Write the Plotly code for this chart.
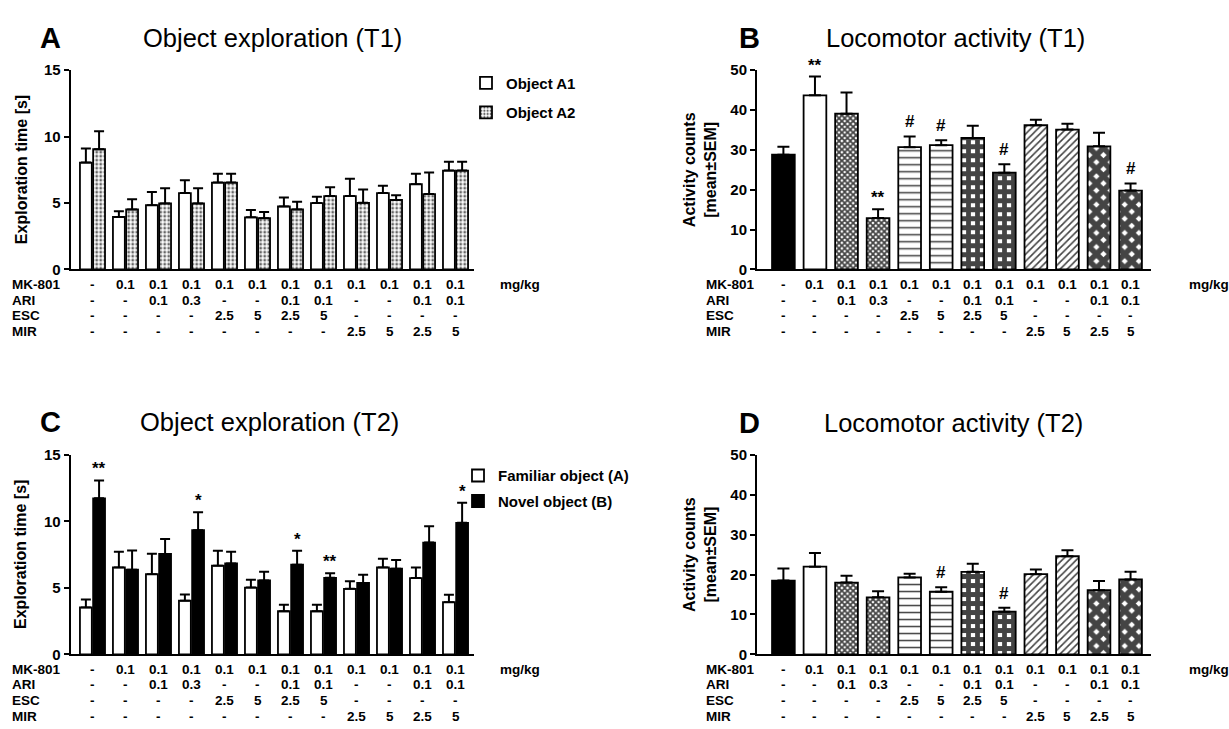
import plotly.graph_objects as go

W, H = 1229, 729
FONT = "Liberation Sans"

# ---------------- data ----------------
groups = list(range(12))
mk801 = ["-", "0.1", "0.1", "0.1", "0.1", "0.1", "0.1", "0.1", "0.1", "0.1", "0.1", "0.1"]
ari = ["-", "-", "0.1", "0.3", "-", "-", "0.1", "0.1", "-", "-", "0.1", "0.1"]
esc = ["-", "-", "-", "-", "2.5", "5", "2.5", "5", "-", "-", "-", "-"]
mir = ["-", "-", "-", "-", "-", "-", "-", "-", "2.5", "5", "2.5", "5"]
row_names = ["MK-801", "ARI", "ESC", "MIR"]

# Panel A: Object exploration (T1)
a1 = [8.05, 3.96, 4.84, 5.75, 6.54, 3.93, 4.75, 5.00, 5.53, 5.75, 6.42, 7.45]
a1_err = [1.05, 0.42, 0.99, 0.96, 0.66, 0.54, 0.66, 0.48, 1.31, 0.55, 0.78, 0.66]
a2 = [9.05, 4.52, 4.97, 4.97, 6.54, 3.86, 4.52, 5.53, 5.02, 5.24, 5.68, 7.45]
a2_err = [1.35, 0.77, 1.15, 1.15, 0.66, 0.47, 0.57, 0.67, 1.00, 0.34, 1.62, 0.66]

# Panel B: Locomotor activity (T1)
b_act = [28.8, 43.7, 39.1, 12.9, 30.7, 31.2, 33.0, 24.3, 36.2, 35.1, 30.9, 19.8]
b_err = [2.0, 4.7, 5.3, 2.2, 2.7, 1.2, 3.1, 2.1, 1.4, 1.5, 3.4, 1.8]
b_sig = ["", "**", "", "**", "#", "#", "", "#", "", "", "", "#"]

# Panel C: Object exploration (T2)
c_fam = [3.53, 6.54, 6.03, 4.04, 6.67, 5.02, 3.24, 3.24, 4.93, 6.54, 5.74, 3.92]
c_fam_err = [0.59, 1.18, 1.54, 0.46, 1.13, 0.59, 0.49, 0.49, 0.56, 0.66, 0.80, 0.57]
c_nov = [11.74, 6.37, 7.55, 9.34, 6.84, 5.56, 6.74, 5.76, 5.37, 6.44, 8.41, 9.90]
c_nov_err = [1.35, 1.45, 1.13, 1.35, 0.88, 0.66, 1.06, 0.34, 0.61, 0.66, 1.23, 1.50]
c_sig = ["**", "", "", "*", "", "", "*", "**", "", "", "", "*"]

# Panel D: Locomotor activity (T2)
d_act = [18.5, 22.0, 18.0, 14.3, 19.3, 15.7, 20.7, 10.7, 20.1, 24.6, 16.1, 18.8]
d_err = [3.0, 3.4, 1.7, 1.5, 0.9, 1.1, 2.0, 1.0, 1.2, 1.5, 2.3, 1.9]
d_sig = ["", "", "", "", "", "#", "", "#", "", "", "", ""]

# ---------------- styles ----------------
pat_shape = ["", "", "x", "x", "-", "-", "+", "+", "/", "/", "x", "x"]
pat_size = [6, 6, 4, 4, 7, 7, 9, 9, 5, 5, 10, 10]
pat_solid = [0.2, 0.2, 0.7, 0.7, 0.22, 0.22, 0.78, 0.78, 0.32, 0.32, 0.8, 0.8]
pat_fg = ["black", "black", "black", "black", "#333", "#333", "black", "black", "#222", "#222", "black", "black"]
bar_fill = ["black"] + ["white"] * 11

BARGAP = 0.2
BARGROUPGAP = 0.1


def px_x(p):
    return p / W


def px_y(p):
    return 1 - p / H


fig = go.Figure()

line = dict(color="black", width=1.8)


def err(arr, w):
    return dict(type="data", array=arr, arrayminus=[0] * len(arr), symmetric=False,
                color="black", thickness=2, width=w)


# Panel A
fig.add_trace(go.Bar(x=groups, y=a1, name="Object A1", xaxis="x", yaxis="y",
                     marker=dict(color="white", line=line), error_y=err(a1_err, 5),
                     legend="legend", legendgroup="a1"))
fig.add_trace(go.Bar(x=groups, y=a2, name="Object A2", xaxis="x", yaxis="y",
                     marker=dict(color="white", line=line,
                                 pattern=dict(shape=".", size=4, solidity=0.4, fgcolor="#666",
                                              bgcolor="white", fgopacity=1)),
                     error_y=err(a2_err, 5), legend="legend", legendgroup="a2"))

# Panel B
fig.add_trace(go.Bar(x=groups, y=b_act, xaxis="x2", yaxis="y2", showlegend=False,
                     marker=dict(color=bar_fill, line=line,
                                 pattern=dict(shape=pat_shape, size=pat_size, solidity=pat_solid,
                                              fgcolor=pat_fg, bgcolor=bar_fill, fgopacity=1)),
                     error_y=err(b_err, 6)))

# Panel C
fig.add_trace(go.Bar(x=groups, y=c_fam, name="Familiar object (A)", xaxis="x3", yaxis="y3",
                     marker=dict(color="white", line=line), error_y=err(c_fam_err, 5),
                     legend="legend2", legendgroup="fam"))
fig.add_trace(go.Bar(x=groups, y=c_nov, name="Novel object (B)", xaxis="x3", yaxis="y3",
                     marker=dict(color="black", line=line), error_y=err(c_nov_err, 5),
                     legend="legend2", legendgroup="nov"))

# Panel D
fig.add_trace(go.Bar(x=groups, y=d_act, xaxis="x4", yaxis="y4", showlegend=False,
                     marker=dict(color=bar_fill, line=line,
                                 pattern=dict(shape=pat_shape, size=pat_size, solidity=pat_solid,
                                              fgcolor=pat_fg, bgcolor=bar_fill, fgopacity=1)),
                     error_y=err(d_err, 6)))

# ---------------- axes ----------------
tickfont = dict(family=FONT, size=15, color="black", weight="bold")


def xaxis(dom, rng):
    return dict(domain=dom, range=rng, showline=True, linewidth=2, linecolor="black",
                showticklabels=False, ticks="", showgrid=False, zeroline=False, fixedrange=True)


def yaxis(dom, rng, dt, anchor):
    return dict(domain=dom, range=rng, dtick=dt, tick0=0, showline=True, linewidth=2,
                linecolor="black", ticks="outside", ticklen=5, tickwidth=2, tickcolor="black",
                tickfont=tickfont, showgrid=False, zeroline=False, anchor=anchor, fixedrange=True)


A_X = [px_x(70.7), px_x(474)]
B_X = [px_x(757), px_x(1151)]
TOP_Y = [px_y(266.7), px_y(62.7)]
BOT_Y = [px_y(660.7), px_y(456.7)]
RA = [-0.66, 11.56]
RB = [(757 - 783.4) / 31.56, (1151 - 783.4) / 31.56]

fig.update_layout(
    xaxis=dict(xaxis(A_X, RA), anchor="y"),
    yaxis=yaxis(TOP_Y, [0, 15], 5, "x"),
    xaxis2=dict(xaxis(B_X, RB), anchor="y2"),
    yaxis2=yaxis(TOP_Y, [0, 50], 10, "x2"),
    xaxis3=dict(xaxis(A_X, RA), anchor="y3"),
    yaxis3=yaxis(BOT_Y, [0, 15], 5, "x3"),
    xaxis4=dict(xaxis(B_X, RB), anchor="y4"),
    yaxis4=yaxis(BOT_Y, [0, 50], 10, "x4"),
)

legfont = dict(family=FONT, size=15, color="black", weight="bold")
fig.update_layout(
    legend=dict(x=px_x(466), y=px_y(59), xanchor="left", yanchor="top", font=legfont,
                tracegroupgap=7, bgcolor="rgba(0,0,0,0)"),
    legend2=dict(x=px_x(458), y=px_y(461), xanchor="left", yanchor="top", font=legfont,
                 tracegroupgap=3, bgcolor="rgba(0,0,0,0)"),
)

# ---------------- annotations ----------------
ann = []
lab_font = dict(family=FONT, size=13.5, color="black", weight="bold")


def add_rows(xref, row_px, name_x, mg_x):
    for vals, name, yp in zip([mk801, ari, esc, mir], row_names, row_px):
        ann.append(dict(x=px_x(name_x), y=px_y(yp), xref="paper", yref="paper", text=name,
                        showarrow=False, xanchor="left", yanchor="middle", font=lab_font))
        for g, v in zip(groups, vals):
            ann.append(dict(x=g, y=px_y(yp), xref=xref, yref="paper", text=v,
                            showarrow=False, xanchor="center", yanchor="middle", font=lab_font))
    ann.append(dict(x=px_x(mg_x), y=px_y(row_px[0]), xref="paper", yref="paper", text="mg/kg",
                    showarrow=False, xanchor="left", yanchor="middle", font=lab_font))


rows_top = [282.0, 298.1, 314.2, 330.3]
rows_bot = [676.0, 692.1, 708.2, 724.0]
add_rows("x", rows_top, 10, 498)
add_rows("x2", rows_top, 704, 1187)
add_rows("x3", rows_bot, 10, 498)
add_rows("x4", rows_bot, 704, 1187)

panel_font = dict(family=FONT, size=29, color="black", weight="bold")
title_font = dict(family=FONT, size=25.5, color="black")
for letter, lx, title, tx, ty in [("A", 38, "Object exploration (T1)", 272, 30),
                                  ("B", 737, "Locomotor activity (T1)", 955, 30),
                                  ("C", 38, "Object exploration (T2)", 269, 423),
                                  ("D", 737, "Locomotor activity (T2)", 953, 424)]:
    ann.append(dict(x=px_x(lx), y=px_y(ty), xref="paper", yref="paper", text=letter,
                    showarrow=False, xanchor="left", yanchor="middle", font=panel_font))
    ann.append(dict(x=px_x(tx), y=px_y(ty), xref="paper", yref="paper", text=title,
                    showarrow=False, xanchor="center", yanchor="middle", font=title_font))

ytitle_font = dict(family=FONT, size=16, color="black", weight="bold")
for txt, x, y in [("Exploration time [s]", 21, 165), ("Exploration time [s]", 21, 559),
                  ("Activity counts<br>[mean±SEM]", 700, 165), ("Activity counts<br>[mean±SEM]", 700, 559)]:
    ann.append(dict(x=px_x(x), y=px_y(y), xref="paper", yref="paper", text=txt, textangle=-90,
                    showarrow=False, xanchor="center", yanchor="middle", font=ytitle_font))

sig_font = dict(family=FONT, size=17, color="black", weight="bold")


def add_sig(xref, yref, vals, errs, sigs, offset):
    for g, v, e, s in zip(groups, vals, errs, sigs):
        if s:
            ann.append(dict(x=g + offset, y=v + e, xref=xref, yref=yref, text=s, showarrow=False,
                            xanchor="center", yanchor="bottom", yshift=3 if s == "#" else 0,
                            font=sig_font))


add_sig("x2", "y2", b_act, b_err, b_sig, 0)
add_sig("x4", "y4", d_act, d_err, d_sig, 0)
add_sig("x3", "y3", c_nov, c_nov_err, c_sig, (1 - BARGAP) / 4)

fig.update_layout(
    annotations=ann,
    barmode="group", bargap=BARGAP, bargroupgap=BARGROUPGAP,
    width=W, height=H, margin=dict(l=0, r=0, t=0, b=0),
    paper_bgcolor="white", plot_bgcolor="white",
    font=dict(family=FONT, color="black"),
)

fig.write_html("out.html", config={"displayModeBar": False})
